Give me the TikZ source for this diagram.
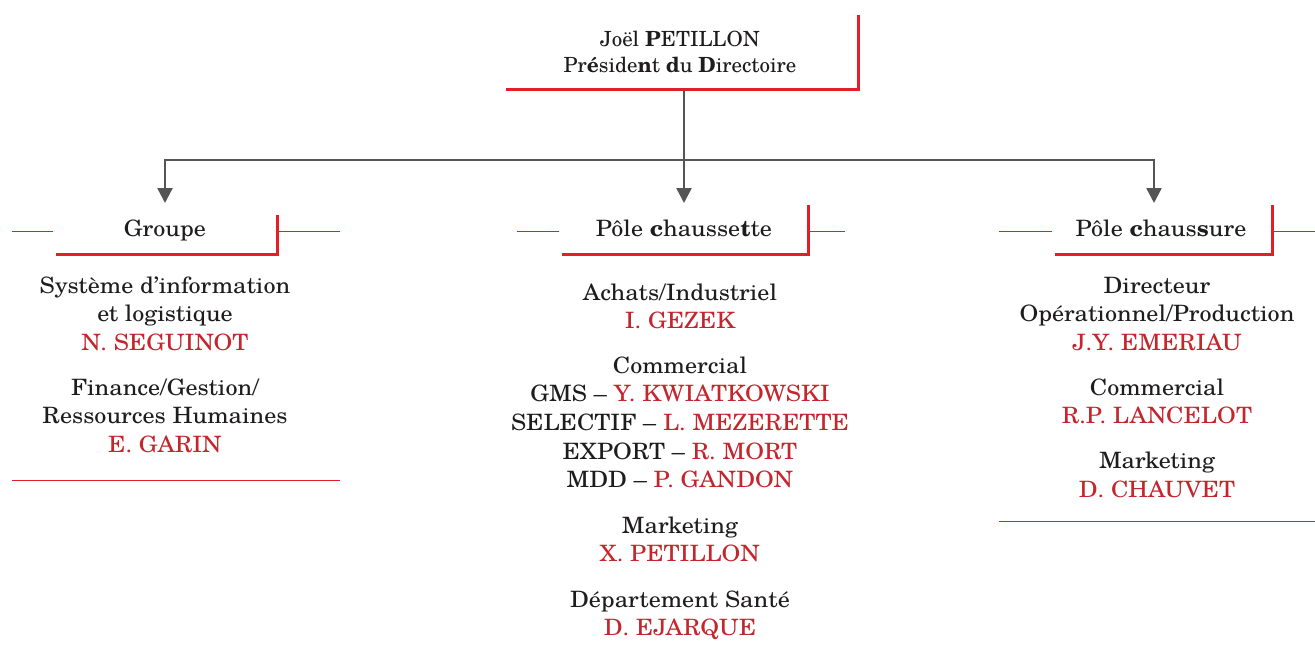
\documentclass[tikz,border=0pt]{standalone}
\usepackage{fontspec}
\setmainfont{TeX Gyre Schola}[FakeStretch=1.07]
\newfontfamily\plainschola{TeX Gyre Schola}
\usetikzlibrary{arrows.meta}
\definecolor{lred}{HTML}{E31E26}
\definecolor{tred}{HTML}{C4262E}
\definecolor{cgrey}{HTML}{555555}
\definecolor{tblack}{HTML}{1E1C1D}
\tikzset{
  ntext/.style={anchor=base, inner sep=0pt, text=tblack, font=\fontsize{22.5}{28.7}\selectfont},
  nred/.style={ntext, text=tred},
  ntop/.style={ntext, font=\plainschola\fontsize{20.9}{26}\selectfont},
  thickred/.style={draw=lred, line width=3pt},
  thinred/.style={draw=lred, line width=1.2pt},
  midred/.style={draw=lred, line width=1.8pt},
  grarrow/.style={draw=cgrey, line width=2.5pt, -{Triangle[length=15pt,width=15pt]}},
}
\begin{document}
\begin{tikzpicture}[x=1pt,y=-1pt]
\useasboundingbox (0,0) rectangle (1315,653);
% top box
\node[ntop] (ceo1) at (680,46) {Joël \textbf{P}ETILLON};
\node[ntop] (ceo2) at (680,72) {Pr\textbf{é}side\textbf{n}t \textbf{d}u \textbf{D}irectoire};
\coordinate (ceoBL) at (506,89.5);
\coordinate (ceoBR) at (858.5,89.5);
\coordinate (ceoTR) at (858.5,15);
\draw[thickred] (ceoBL) -- (ceoBR) -- (ceoTR);
% connectors
\coordinate (ceo) at (684,89.5);
\coordinate (hub) at (684,160);
\coordinate (tipL) at (165,203);
\coordinate (tipM) at (684,203);
\coordinate (tipR) at (1154,203);
\draw[grarrow] (ceo) -- (tipM);
\draw[grarrow] (hub) -| (tipL);
\draw[grarrow] (hub) -| (tipR);
% headers
\node[ntext] (hG) at (165,236) {Groupe};
\node[ntext] (hM) at (684,236) {Pôle \textbf{c}hausse\textbf{t}te};
\node[ntext] (hR) at (1161,236) {Pôle \textbf{c}haus\textbf{s}ure};
% Groupe header lines
\draw[thinred] (12,231.5) -- (53,231.5);
\draw[thickred] (56,254.5) -- (277,254.5) -- (277,215);
\draw[thinred] (277,231.5) -- (340,231.5);
% chaussette header lines
\draw[thinred] (517,231.5) -- (559,231.5);
\draw[thickred] (562,254.5) -- (808,254.5) -- (808,205);
\draw[thinred] (808,231.5) -- (845,231.5);
% chaussure header lines
\draw[thinred] (999,231.5) -- (1052,231.5);
\draw[thickred] (1055,254.5) -- (1272,254.5) -- (1272,205);
\draw[thinred] (1272,231.5) -- (1315,231.5);
% left column
\node[ntext] (l1) at (165,293) {Système d’information};
\node[ntext] (l2) at (165,321.7) {et logistique};
\node[nred] (l3) at (165,350.4) {N. SEGUINOT};
\node[ntext] (l4) at (165,395) {Finance/Gestion/};
\node[ntext] (l5) at (165,423.7) {Ressources Humaines};
\node[nred] (l6) at (165,452.4) {E. GARIN};
\draw[midred] (12,480.5) -- (340,480.5);
% middle column
\node[ntext] (m1) at (680,300) {Achats/Industriel};
\node[nred] (m2) at (680,328.7) {I. GEZEK};
\node[ntext] (m3) at (680,373) {Commercial};
\node[ntext] (m4) at (680,401.7) {GMS – \textcolor{tred}{Y. KWIATKOWSKI}};
\node[ntext] (m5) at (680,430.4) {SELECTIF – \textcolor{tred}{L. MEZERETTE}};
\node[ntext] (m6) at (680,459.1) {EXPORT – \textcolor{tred}{R. MORT}};
\node[ntext] (m7) at (680,487.8) {MDD – \textcolor{tred}{P. GANDON}};
\node[ntext] (m8) at (680,533) {Marketing};
\node[nred] (m9) at (680,561.7) {X. PETILLON};
\node[ntext] (m10) at (680,607) {Département Santé};
\node[nred] (m11) at (680,635.7) {D. EJARQUE};
% right column
\node[ntext] (r1) at (1157,293) {Directeur};
\node[ntext] (r2) at (1157,321.7) {Opérationnel/Production};
\node[nred] (r3) at (1157,350.4) {J.Y. EMERIAU};
\node[ntext] (r4) at (1157,395) {Commercial};
\node[nred] (r5) at (1157,423.7) {R.P. LANCELOT};
\node[ntext] (r6) at (1157,468.5) {Marketing};
\node[nred] (r7) at (1157,497.2) {D. CHAUVET};
\draw[midred] (999,521.5) -- (1315,521.5);
\end{tikzpicture}
\end{document}
